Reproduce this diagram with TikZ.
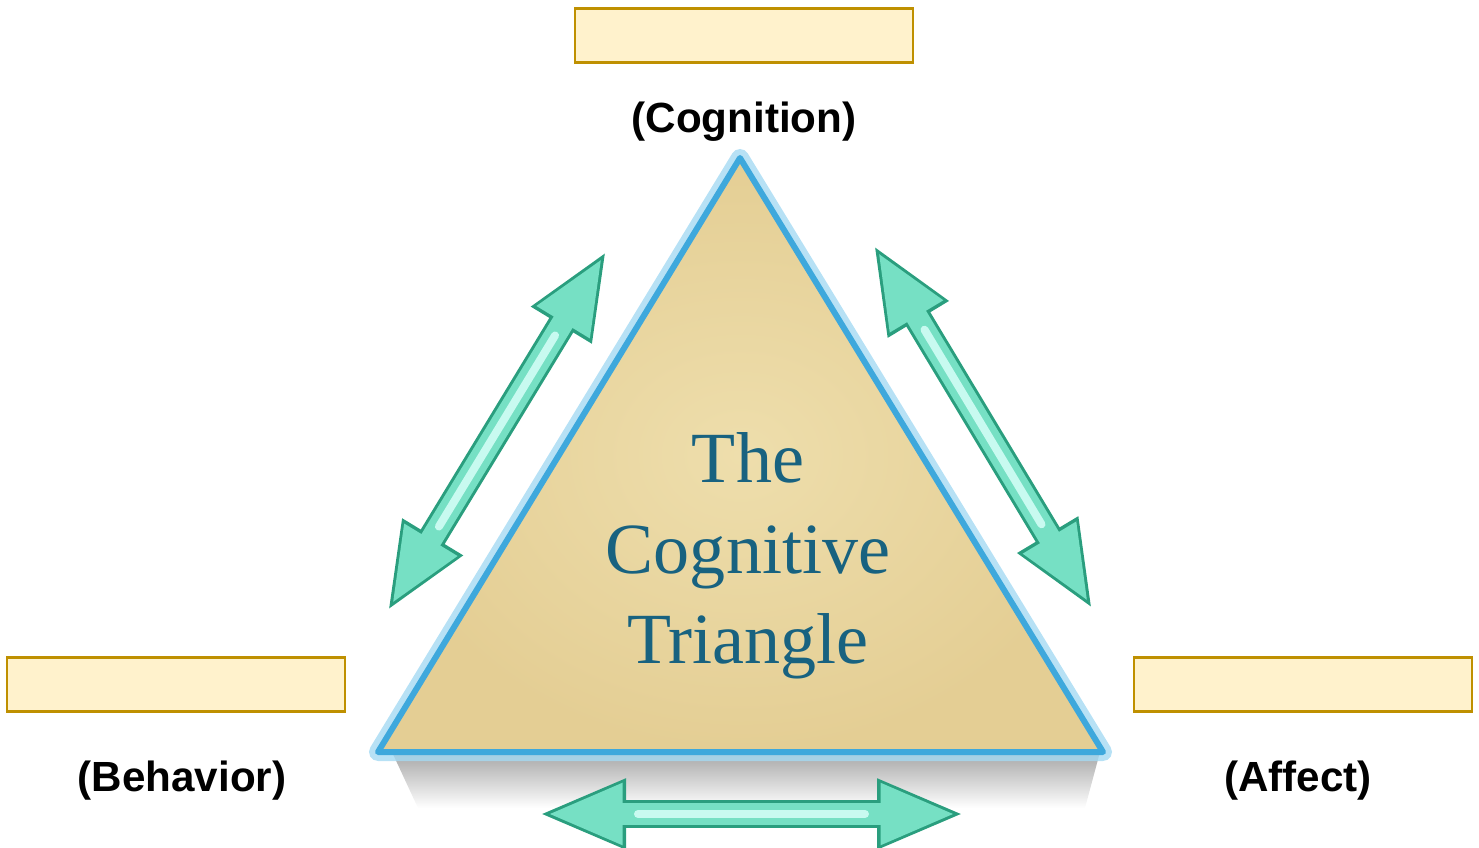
\documentclass[tikz,border=0pt]{standalone}
\usepackage{fontspec}
\setmainfont{Liberation Serif}
\setsansfont{Liberation Sans}
\usetikzlibrary{arrows.meta, calc}
\definecolor{boxfill}{RGB}{255,242,204}
\definecolor{boxedge}{RGB}{191,144,0}
\definecolor{tanfill}{RGB}{228,206,148}
\definecolor{tanlight}{RGB}{238,222,172}
\definecolor{rimblue}{RGB}{62,168,220}
\definecolor{glowblue}{RGB}{165,218,243}
\definecolor{titleblue}{RGB}{24,98,128}
\definecolor{linkedge}{RGB}{42,158,126}
\definecolor{linkfill}{RGB}{118,224,196}
\definecolor{linkshine}{RGB}{200,250,240}
\tikzset{
  labelbox/.style={rectangle, draw=boxedge, line width=0.8pt, fill=boxfill, minimum width=33.8mm, minimum height=5.4mm, inner sep=0pt},
  corner/.style={font=\sffamily\bfseries\fontsize{12}{14}\selectfont, inner sep=0pt},
  linkout/.style={line width=2.8mm, draw=linkedge, {Triangle[length=8.8mm,width=6.4mm]}-{Triangle[length=8.8mm,width=6.4mm]}},
  linkin/.style={line width=2.2mm, draw=linkfill, shorten <=0.85mm, shorten >=0.85mm, {Triangle[length=7.6mm,width=5.6mm]}-{Triangle[length=7.6mm,width=5.6mm]}},
  linkglint/.style={line width=0.8mm, draw=linkshine, line cap=round, shorten <=10mm, shorten >=10mm},
}
\begin{document}
\begin{tikzpicture}[x=0.1mm, y=-0.1mm]
\useasboundingbox (0,0) rectangle (1479,848);
% the triangle
\coordinate (apex) at (740,158);
\coordinate (bl) at (378,752);
\coordinate (br) at (1103,752);
\shade[top color=black!35, bottom color=white] (392,752) -- (1100,752) -- (1085,808) -- (418,808) -- cycle;
\draw[glowblue, line width=1.8mm, line join=round, opacity=0.8] (apex) -- (bl) -- (br) -- cycle;
\path[draw=rimblue, line width=0.6mm, line join=round, inner color=tanlight, outer color=tanfill] (apex) -- (bl) -- (br) -- cycle;
\node[font=\fontsize{20.5}{25.7}\selectfont, text=titleblue, align=center, inner sep=0pt] (title) at (748,556) {The\\Cognitive\\Triangle};

% double arrows round it
\coordinate (l1) at (387,612); \coordinate (l2) at (607,250);
\coordinate (r1) at (873,244); \coordinate (r2) at (1093,610);
\coordinate (b1) at (538,814); \coordinate (b2) at (965,814);
\draw[linkout](l1)--(l2); \draw[linkin](l1)--(l2); \draw[linkglint](l1)--(l2);
\draw[linkout](r1)--(r2); \draw[linkin](r1)--(r2); \draw[linkglint](r1)--(r2);
\draw[linkout](b1)--(b2); \draw[linkin](b1)--(b2); \draw[linkglint](b1)--(b2);

% empty boxes and corner labels
\node[labelbox] (cogbox) at (744,35.5) {};
\node[labelbox] (behbox) at (176,684.5) {};
\node[labelbox] (affbox) at (1303,684.5) {};
\node[corner] (cogtxt) at (744,122) {(Cognition)};
\node[corner] (behtxt) at (182,781) {(Behavior)};
\node[corner] (afftxt) at (1298,781) {(Affect)};
\end{tikzpicture}
\end{document}
